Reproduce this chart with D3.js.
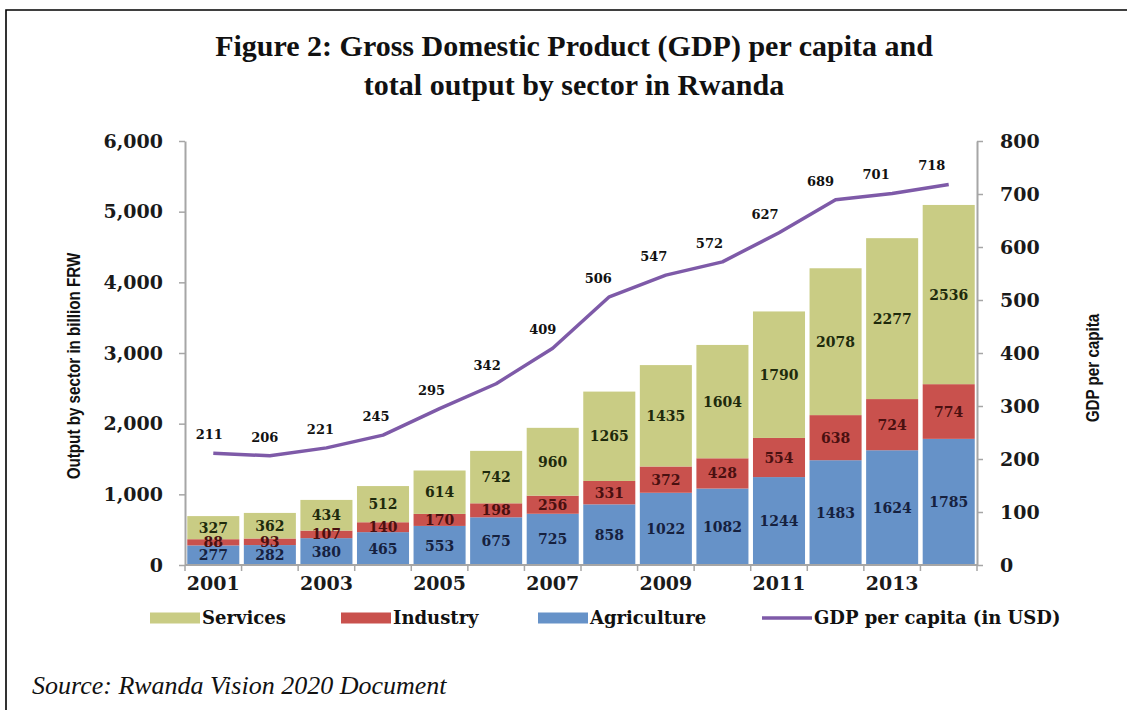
<!DOCTYPE html>
<html>
<head>
<meta charset="utf-8">
<script src="https://cdn.jsdelivr.net/npm/d3@7"></script>
<style>
  body { margin: 0; background: #fff; }
  svg { display: block; }
</style>
</head>
<body>
<div id="chart"></div>
<script>
// data
var years = [2001, 2002, 2003, 2004, 2005, 2006, 2007, 2008, 2009, 2010, 2011, 2012, 2013, 2014];
var agriculture = [277, 282, 380, 465, 553, 675, 725, 858, 1022, 1082, 1244, 1483, 1624, 1785];
var industry = [88, 93, 107, 140, 170, 198, 256, 331, 372, 428, 554, 638, 724, 774];
var services = [327, 362, 434, 512, 614, 742, 960, 1265, 1435, 1604, 1790, 2078, 2277, 2536];
var gdpPerCapita = [211, 206, 221, 245, 295, 342, 409, 506, 547, 572, 627, 689, 701, 718];
var sectors = ["Agriculture", "Industry", "Services"];
var leftTicks = [0, 1000, 2000, 3000, 4000, 5000, 6000];
var rightTicks = [0, 100, 200, 300, 400, 500, 600, 700, 800];
var yearLabels = [2001, 2003, 2005, 2007, 2009, 2011, 2013];

var width = 1127, height = 710;
var plot = { left: 185, right: 977, top: 141, bottom: 565 };

var colors = { Agriculture: "#6692c8", Industry: "#c9514d", Services: "#c9cc84" };
var labelColors = { Agriculture: "#16213f", Industry: "#4a1010", Services: "#1e2a0c" };
var lineColor = "#7e5aa8";
var axisGray = "#a6a6a6";
var tickFont = "'DejaVu Serif', serif";
var narrowFont = "'Liberation Sans Narrow', 'Arial Narrow', 'Liberation Sans', sans-serif";

var svg = d3.select("#chart").append("svg")
  .attr("width", width)
  .attr("height", height);

// frame
svg.append("path")
  .attr("d", "M6," + height + "V10H" + width)
  .attr("fill", "none")
  .attr("stroke", "#000")
  .attr("stroke-width", 1.6);

// title
var title = svg.append("text")
  .attr("text-anchor", "middle")
  .attr("font-family", "'Liberation Serif', serif")
  .attr("font-weight", "bold")
  .attr("font-size", 30)
  .attr("fill", "#111");
title.append("tspan").attr("x", 574).attr("y", 56).text("Figure 2: Gross Domestic Product (GDP) per capita and");
title.append("tspan").attr("x", 574).attr("y", 95).text("total output by sector in Rwanda");

// scales
var x = d3.scaleBand()
  .domain(years)
  .range([plot.left, plot.right])
  .paddingInner(0.08)
  .paddingOuter(0.04);
var yL = d3.scaleLinear().domain([0, 6000]).range([plot.bottom, plot.top]);
var yR = d3.scaleLinear().domain([0, 800]).range([plot.bottom, plot.top]);

// stack
var rows = years.map(function(yr, i) {
  return { year: yr, Agriculture: agriculture[i], Industry: industry[i], Services: services[i] };
});
var series = d3.stack().keys(sectors)(rows);

var layers = svg.append("g").selectAll("g")
  .data(series)
  .enter().append("g")
  .attr("fill", function(d) { return colors[d.key]; });

layers.selectAll("rect")
  .data(function(d) { return d; })
  .enter().append("rect")
  .attr("x", function(d) { return x(d.data.year); })
  .attr("width", x.bandwidth())
  .attr("y", function(d) { return yL(d[1]); })
  .attr("height", function(d) { return yL(d[0]) - yL(d[1]); });

// segment labels
series.forEach(function(s) {
  svg.append("g").selectAll("text")
    .data(s)
    .enter().append("text")
    .attr("x", function(d) { return x(d.data.year) + x.bandwidth() / 2; })
    .attr("y", function(d) { return yL((d[0] + d[1]) / 2); })
    .attr("dy", "0.36em")
    .attr("text-anchor", "middle")
    .attr("font-family", tickFont)
    .attr("font-weight", "bold")
    .attr("font-size", 14)
    .attr("fill", labelColors[s.key])
    .text(function(d) { return d.data[s.key]; });
});

// axes
var leftAxis = svg.append("g")
  .attr("transform", "translate(" + plot.left + ",0)")
  .call(d3.axisLeft(yL).tickValues(leftTicks).tickFormat(d3.format(",")).tickSize(6).tickSizeOuter(0).tickPadding(16));
var rightAxis = svg.append("g")
  .attr("transform", "translate(" + plot.right + ",0)")
  .call(d3.axisRight(yR).tickValues(rightTicks).tickSize(6).tickSizeOuter(0).tickPadding(17));
[leftAxis, rightAxis].forEach(function(a) {
  a.select(".domain").attr("stroke", axisGray).attr("stroke-width", 2);
  a.selectAll(".tick line").attr("stroke", axisGray).attr("stroke-width", 1.5);
  a.selectAll(".tick text")
    .attr("font-family", tickFont)
    .attr("font-weight", "bold")
    .attr("font-size", 19)
    .attr("fill", "#1a1a1a");
});

// x axis: baseline, boundary ticks, year labels
var gap = (x.step() - x.bandwidth()) / 2;
svg.append("line")
  .attr("x1", plot.left).attr("x2", plot.right)
  .attr("y1", plot.bottom).attr("y2", plot.bottom)
  .attr("stroke", axisGray).attr("stroke-width", 2);
svg.append("g").selectAll("line")
  .data(years.concat(["end"]))
  .enter().append("line")
  .attr("x1", function(d) { return d === "end" ? plot.right : x(d) - gap; })
  .attr("x2", function(d) { return d === "end" ? plot.right : x(d) - gap; })
  .attr("y1", plot.bottom).attr("y2", plot.bottom + 6)
  .attr("stroke", axisGray).attr("stroke-width", 1.5);

var bottomAxis = svg.append("g")
  .attr("transform", "translate(0," + plot.bottom + ")")
  .call(d3.axisBottom(x).tickValues(yearLabels).tickSize(0).tickPadding(12));
bottomAxis.select(".domain").remove();
bottomAxis.selectAll(".tick text")
  .attr("font-family", tickFont)
  .attr("font-weight", "bold")
  .attr("font-size", 19)
  .attr("fill", "#1a1a1a");

// GDP per capita line
var line = d3.line()
  .x(function(d, i) { return x(years[i]) + x.bandwidth() / 2; })
  .y(function(d) { return yR(d); });
svg.append("path")
  .datum(gdpPerCapita)
  .attr("d", line)
  .attr("fill", "none")
  .attr("stroke", lineColor)
  .attr("stroke-width", 3.5)
  .attr("stroke-linejoin", "round");

svg.append("g").selectAll("text")
  .data(gdpPerCapita)
  .enter().append("text")
  .attr("x", function(d, i) { return x(years[i]) + x.bandwidth() / 2 - 4 - i; })
  .attr("y", function(d) { return yR(d) - 14; })
  .attr("text-anchor", "middle")
  .attr("font-family", tickFont)
  .attr("font-weight", "bold")
  .attr("font-size", 13)
  .attr("fill", "#111")
  .text(function(d) { return d; });

// axis titles (condensed look)
svg.append("text")
  .attr("transform", "translate(80,366) rotate(-90) scale(0.8,1)")
  .attr("text-anchor", "middle")
  .attr("font-family", narrowFont)
  .attr("font-weight", "bold")
  .attr("font-size", 19)
  .attr("fill", "#111")
  .text("Output by sector in billion FRW");
svg.append("text")
  .attr("transform", "translate(1099,368) rotate(-90) scale(0.8,1)")
  .attr("text-anchor", "middle")
  .attr("font-family", narrowFont)
  .attr("font-weight", "bold")
  .attr("font-size", 19)
  .attr("fill", "#111")
  .text("GDP per capita");

// legend
var legendItems = [
  { name: "Services", color: colors.Services, type: "rect", x: 150 },
  { name: "Industry", color: colors.Industry, type: "rect", x: 341 },
  { name: "Agriculture", color: colors.Agriculture, type: "rect", x: 538 },
  { name: "GDP per capita (in USD)", color: lineColor, type: "line", x: 762 }
];
var legendY = 618;
var legend = svg.append("g").selectAll("g")
  .data(legendItems)
  .enter().append("g")
  .attr("transform", function(d) { return "translate(" + d.x + "," + legendY + ")"; });
legend.filter(function(d) { return d.type === "rect"; })
  .append("rect")
  .attr("x", 0).attr("y", -5.5).attr("width", 50).attr("height", 11)
  .attr("fill", function(d) { return d.color; });
legend.filter(function(d) { return d.type === "line"; })
  .append("line")
  .attr("x1", 0).attr("x2", 50).attr("y1", 0).attr("y2", 0)
  .attr("stroke", function(d) { return d.color; })
  .attr("stroke-width", 3.5);
legend.append("text")
  .attr("x", 52)
  .attr("dy", "0.35em")
  .attr("font-family", tickFont)
  .attr("font-weight", "bold")
  .attr("font-size", 18)
  .attr("fill", "#111")
  .text(function(d) { return d.name; });

// source
svg.append("text")
  .attr("x", 32).attr("y", 694)
  .attr("font-family", "'Liberation Serif', serif")
  .attr("font-style", "italic")
  .attr("font-size", 26)
  .attr("fill", "#111")
  .text("Source: Rwanda Vision 2020 Document");
</script>
</body>
</html>
